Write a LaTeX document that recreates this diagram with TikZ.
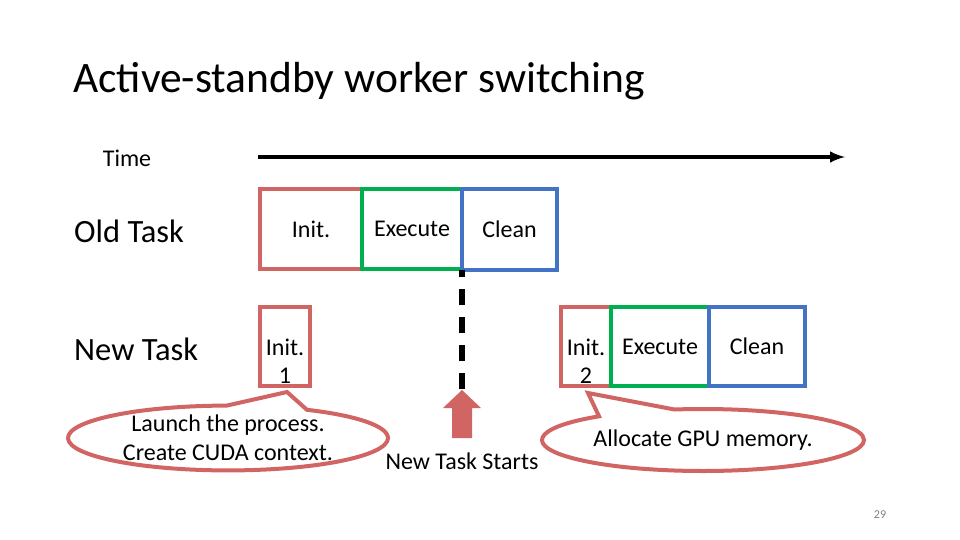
\documentclass[tikz,border=0pt]{standalone}
\usepackage{fontspec}
\setmainfont{Carlito}
\usetikzlibrary{shapes.callouts,calc}
\definecolor{cred}{RGB}{208,101,99}
\definecolor{cgreen}{RGB}{0,176,80}
\definecolor{cblue}{RGB}{68,114,196}
\begin{document}
\begin{tikzpicture}[x=1pt,y=-1pt,
  lbl/.style={font=\fontsize{24}{28}\selectfont, inner sep=0pt},
  big/.style={font=\fontsize{32.5}{38}\selectfont, inner sep=0pt, anchor=west},
  phase/.style={draw, line width=4pt, anchor=north west, inner sep=0pt, outer sep=0pt, font=\fontsize{24}{28}\selectfont, align=center},
  bubble/.style={ellipse callout, draw=cred, line width=4pt, fill=white, inner sep=0pt, outer sep=0pt, callout pointer arc=30, align=center, font=\fontsize{24}{29}\selectfont}
]
\useasboundingbox (0,0) rectangle (960,540);
\node[anchor=west, inner sep=0pt, font=\fontsize{43.5}{50}\selectfont] (title) at (73,81) {Active-standby worker switching};
\node[lbl] (time) at (127,158) {Time};
\coordinate (t0) at (258,157);
\coordinate (t1) at (845,157);
\draw[line width=4pt, -latex] (t0) -- (t1);
\node[big] (old) at (74,231) {Old Task};
\node[big] (new) at (74,349) {New Task};
% old task
\node[phase, draw=cred, minimum width=102pt, minimum height=80pt] (oi) at (260,189) {Init.};
\node[phase, draw=cgreen, minimum width=100pt, minimum height=80pt] (oe) at (362,189) {Execute};
\node[phase, draw=cblue, minimum width=95pt, minimum height=81pt] (oc) at (462,189) {Clean};
% dashed
\coordinate (dend) at (462,390);
\draw[line width=6pt, dash pattern=on 16pt off 12pt, dash phase=9pt] (oe.south east) ++(0,1) -- (dend);
% block arrow
\fill[cred] (dend) -- ++(19,18) -- ++(-9,0) -- ++(0,30) -- ++(-20,0) -- ++(0,-30) -- ++(-9,0) -- cycle;
\node[lbl] (starts) at (462,461) {New Task Starts};
% new task
\node[phase, draw=cred, minimum width=50pt, minimum height=79pt] (ni1) at (260,307) {};
\node[lbl, align=center] (ni1t) at ($(ni1.center)+(0,15)$) {Init.\\1};
\node[phase, draw=cred, minimum width=50pt, minimum height=79pt] (ni2) at (561,307) {};
\node[lbl, align=center] (ni2t) at ($(ni2.center)+(0,15)$) {Init.\\2};
\node[phase, draw=cgreen, minimum width=98pt, minimum height=79pt] (ne) at (611,307) {Execute};
\node[phase, draw=cblue, minimum width=96pt, minimum height=79pt] (nc) at (709,307) {Clean};
% callouts
\node[bubble, minimum width=320pt, minimum height=60pt, callout absolute pointer={($(ni1.south)+(2,6)$)}] (c1) at (228,438) {Launch the process.\\Create CUDA context.};
\node[bubble, minimum width=322pt, minimum height=62pt, callout absolute pointer={($(ni2.south)+(2,7)$)}] (c2) at (703,440) {Allocate GPU memory.};
\node[inner sep=0pt, text=gray, font=\fontsize{12}{14}\selectfont] (pg) at (880,515) {29};
\end{tikzpicture}
\end{document}
